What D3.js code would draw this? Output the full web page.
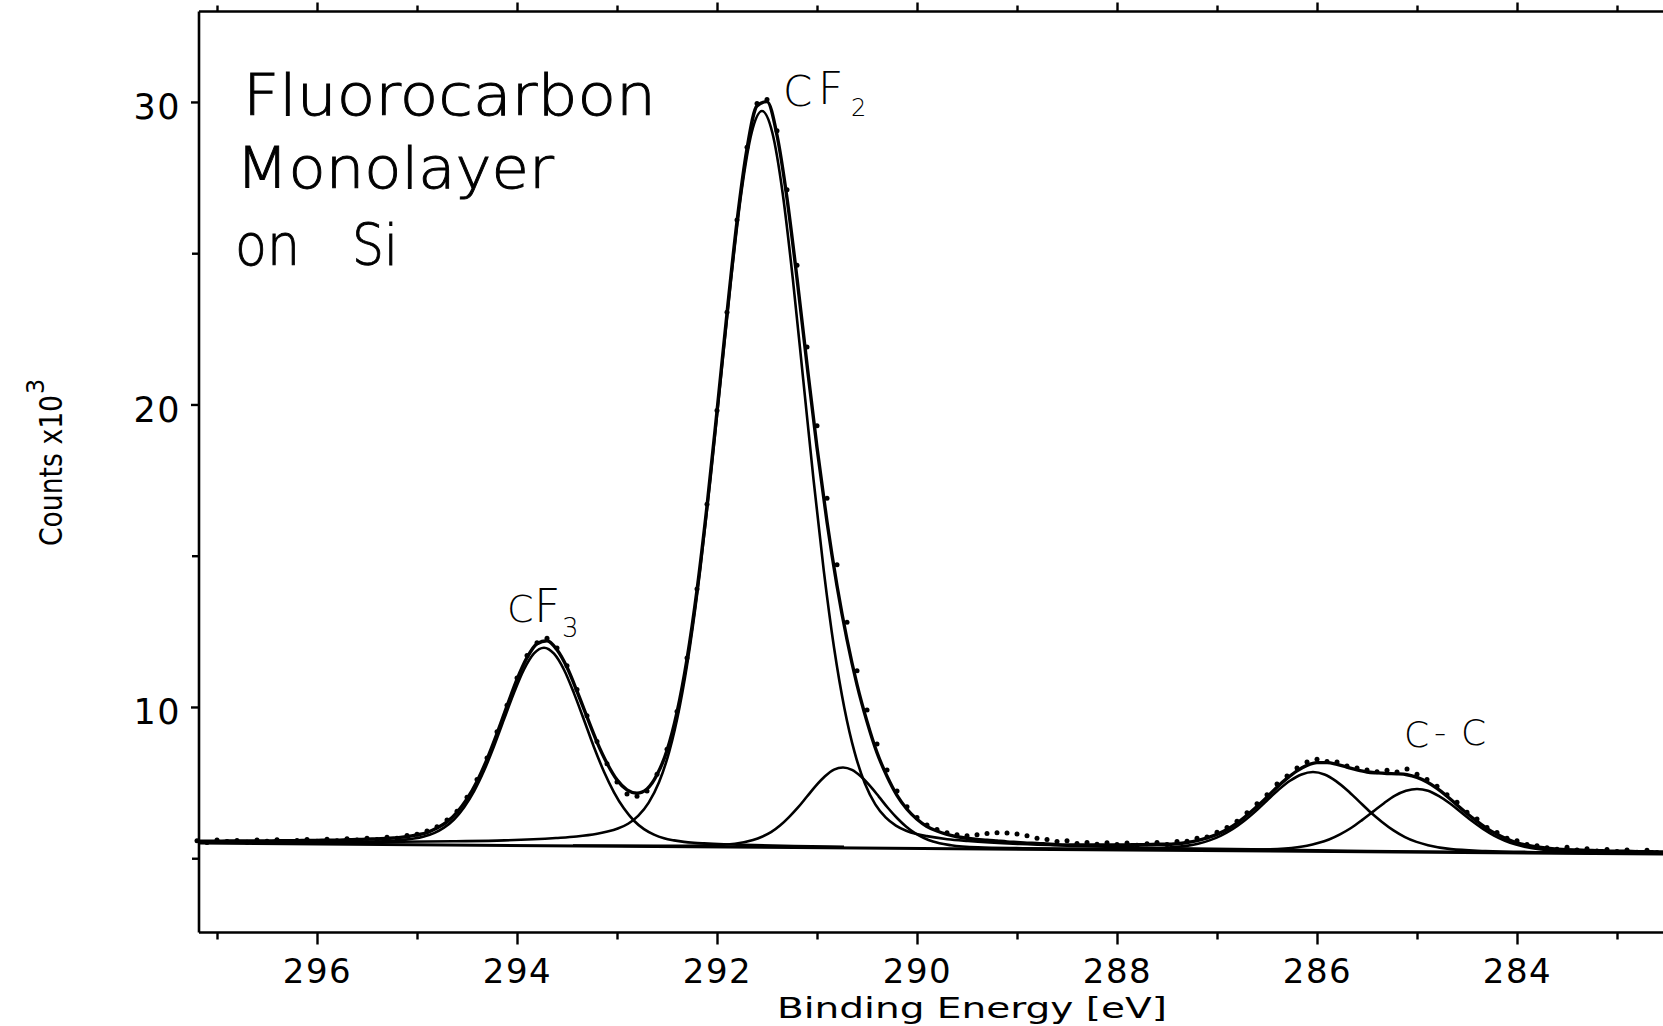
<!DOCTYPE html>
<html><head><meta charset="utf-8">
<script src="https://cdn.jsdelivr.net/npm/d3@7"></script>
<style>html,body{margin:0;padding:0;background:#fff;} svg{display:block;}</style>
</head><body>
<svg id="chart" width="1663" height="1026"></svg>
<script>
// ---------- DATA ----------
const xMajorTicks = [296, 294, 292, 290, 288, 286, 284];
const xMinorTicks = [297, 295, 293, 291, 289, 287, 285, 283];
const yMajorTicks = [10, 20, 30];
const yMinorTicks = [5, 15, 25];

// measured spectrum: first channel energy and channel step (eV), counts x10^3
const dataStartEV = 297.2;
const dataStepEV = 0.1;
const measuredCounts = [
5.58,5.52,5.60,5.55,5.59,5.53,5.60,5.56,5.61,5.55,5.59,5.62,5.56,5.63,5.58,5.64,5.60,5.66,5.62,5.69,
5.66,5.75,5.79,5.90,6.04,6.26,6.55,7.02,7.60,8.31,9.18,10.06,10.96,11.70,12.12,12.27,11.95,11.36,10.58,9.71,
8.86,8.12,7.52,7.12,7.05,7.22,7.78,8.60,9.85,11.62,13.90,16.70,19.80,23.05,26.10,28.50,29.95,30.08,29.05,27.10,
24.60,21.90,19.30,16.90,14.70,12.80,11.20,9.90,8.78,7.92,7.22,6.70,6.35,6.10,5.95,5.84,5.78,5.74,5.78,5.82,
5.84,5.83,5.80,5.74,5.66,5.62,5.55,5.58,5.49,5.52,5.46,5.51,5.45,5.50,5.43,5.48,5.52,5.45,5.55,5.56,
5.66,5.70,5.86,6.02,6.22,6.50,6.80,7.10,7.45,7.72,7.98,8.18,8.27,8.20,8.18,8.05,7.98,7.92,7.86,7.91,
7.85,7.95,7.78,7.60,7.38,7.10,6.85,6.52,6.30,6.02,5.85,5.66,5.58,5.45,5.41,5.35,5.30,5.36,5.27,5.31,
5.24,5.29,5.22,5.27,5.20,5.26,5.19,5.24
];
// fitted envelope on the same channels
const fitCounts = [
5.56,5.56,5.56,5.57,5.57,5.57,5.57,5.57,5.58,5.58,5.58,5.59,5.59,5.60,5.60,5.61,5.62,5.63,5.64,5.65,
5.68,5.71,5.77,5.85,6.00,6.20,6.52,6.96,7.54,8.27,9.12,10.03,10.91,11.63,12.09,12.19,11.89,11.31,10.52,9.67,
8.84,8.14,7.59,7.26,7.15,7.29,7.76,8.56,9.82,11.58,13.86,16.64,19.77,23.01,26.04,28.45,29.87,30.01,28.90,26.82,
24.17,21.32,18.58,16.12,14.01,12.23,10.74,9.52,8.49,7.71,7.08,6.62,6.29,6.05,5.90,5.79,5.71,5.66,5.62,5.60,
5.57,5.54,5.52,5.50,5.49,5.47,5.45,5.44,5.44,5.44,5.44,5.44,5.44,5.44,5.45,5.45,5.46,5.46,5.48,5.52,
5.58,5.67,5.79,5.95,6.16,6.42,6.71,7.02,7.35,7.64,7.89,8.07,8.16,8.16,8.10,8.01,7.92,7.85,7.82,7.80,
7.79,7.76,7.67,7.52,7.31,7.05,6.76,6.48,6.22,5.98,5.79,5.63,5.51,5.43,5.37,5.33,5.30,5.28,5.27,5.26,
5.25,5.24,5.23,5.23,5.22,5.22,5.21,5.21
];
// background line [eV, counts]
const background = [[297.18, 5.50], [282.5, 5.14]];
// fitted components (incl. background) [eV, counts]
const compCF3 = [[297.18,5.52],[296.73,5.52],[296.23,5.52],[295.73,5.53],[295.53,5.55],[295.33,5.56],[295.23,5.58],[295.13,5.61],[295.03,5.65],[294.93,5.72],[294.83,5.83],[294.73,6.01],[294.63,6.28],[294.53,6.68],[294.43,7.21],[294.33,7.89],[294.23,8.70],[294.13,9.59],[294.03,10.47],[293.93,11.24],[293.83,11.77],[293.73,11.96],[293.63,11.76],[293.53,11.23],[293.43,10.45],[293.33,9.57],[293.23,8.67],[293.13,7.86],[293.03,7.18],[292.93,6.64],[292.83,6.24],[292.73,5.96],[292.63,5.78],[292.53,5.66],[292.43,5.59],[292.33,5.54],[292.23,5.51],[292.13,5.49],[291.93,5.46],[291.73,5.44],[291.23,5.40],[290.73,5.38]];
const compCF2 = [[297.18,5.54],[295.67,5.53],[294.64,5.56],[294.125,5.59],[293.61,5.67],[293.404,5.72],[293.198,5.81],[293.095,5.88],[292.992,5.98],[292.889,6.14],[292.786,6.41],[292.683,6.84],[292.58,7.51],[292.477,8.53],[292.374,10.00],[292.271,11.99],[292.168,14.53],[292.065,17.55],[291.962,20.85],[291.859,24.14],[291.756,27.01],[291.653,28.99],[291.55,29.70],[291.447,28.99],[291.344,27.00],[291.241,24.13],[291.138,20.83],[291.035,17.52],[290.932,14.50],[290.829,11.95],[290.726,9.96],[290.623,8.49],[290.52,7.46],[290.417,6.78],[290.314,6.35],[290.211,6.08],[290.108,5.91],[290.005,5.80],[289.902,5.73],[289.696,5.63],[289.49,5.57],[288.975,5.47],[288.46,5.41],[287.43,5.33],[285.5,5.24],[282.55,5.15]];
const comp2907 = [[293.44,5.42],[292.54,5.41],[292.09,5.43],[291.82,5.48],[291.64,5.60],[291.55,5.71],[291.46,5.86],[291.37,6.08],[291.28,6.36],[291.19,6.68],[291.10,7.04],[291.01,7.40],[290.92,7.71],[290.83,7.93],[290.74,8.00],[290.65,7.92],[290.56,7.70],[290.47,7.39],[290.38,7.03],[290.29,6.66],[290.20,6.33],[290.11,6.05],[290.02,5.83],[289.93,5.67],[289.84,5.55],[289.66,5.43],[289.39,5.36],[288.94,5.33],[288.04,5.29]];
const comp2860 = [[289.49,5.33],[288.34,5.31],[287.765,5.32],[287.42,5.37],[287.19,5.48],[287.075,5.59],[286.96,5.75],[286.845,5.96],[286.73,6.23],[286.615,6.55],[286.50,6.91],[286.385,7.26],[286.27,7.56],[286.155,7.77],[286.04,7.85],[285.925,7.77],[285.81,7.55],[285.695,7.24],[285.58,6.88],[285.465,6.52],[285.35,6.20],[285.235,5.92],[285.12,5.70],[285.005,5.54],[284.89,5.43],[284.66,5.30],[284.315,5.24],[283.74,5.20],[282.8,5.16]];
const comp2850 = [[287.2,5.28],[286.65,5.28],[286.32,5.32],[286.10,5.41],[285.99,5.50],[285.88,5.62],[285.77,5.79],[285.66,6.00],[285.55,6.26],[285.44,6.54],[285.33,6.82],[285.22,7.07],[285.11,7.23],[285.00,7.29],[284.89,7.23],[284.78,7.05],[284.67,6.81],[284.56,6.52],[284.45,6.23],[284.34,5.97],[284.23,5.75],[284.12,5.58],[284.01,5.45],[283.90,5.36],[283.68,5.26],[283.35,5.20],[282.80,5.17]];

// ---------- DRAWING ----------
(function () {
const FONT = "'DejaVu Sans', sans-serif";
const svg = d3.select('#chart');
const pL = 199, pR = 1663, pT = 11.5, pB = 932.5;
const x = d3.scaleLinear().domain([297.18, 282.54]).range([pL, pR]);
const y = d3.scaleLinear().domain([2.545, 32.99]).range([pB, pT]);

const toPairs = arr => arr.map((v, i) => [dataStartEV - i * dataStepEV, v]);
const line = d3.line().x(d => x(d[0])).y(d => y(d[1])).curve(d3.curveMonotoneX);

const g = svg.append('g');
g.append('path').datum(background).attr('d', d3.line().x(d => x(d[0])).y(d => y(d[1])))
  .attr('fill', 'none').attr('stroke', '#000').attr('stroke-width', 3);
[compCF3, compCF2, comp2907, comp2860, comp2850].forEach(c => {
  g.append('path').datum(c).attr('d', line).attr('fill', 'none')
    .attr('stroke', '#000').attr('stroke-width', 2.6).attr('stroke-linejoin', 'round');
});
g.append('path').datum(toPairs(fitCounts)).attr('d', line).attr('fill', 'none')
  .attr('stroke', '#000').attr('stroke-width', 3.4);
g.selectAll('circle.pt').data(toPairs(measuredCounts)).enter().append('circle')
  .attr('class', 'pt').attr('cx', d => x(d[0])).attr('cy', d => y(d[1])).attr('r', 2.5).attr('fill', '#000');

svg.append('path').attr('d', `M${pL},${pT}H${pR + 5}M${pL},${pT}V${pB}M${pL},${pB}H${pR + 5}`)
  .attr('fill', 'none').attr('stroke', '#000').attr('stroke-width', 2.6);

function styleAxis(sel, fs) {
  sel.select('.domain').remove();
  sel.selectAll('line').attr('stroke', '#000').attr('stroke-width', 2.4);
  sel.selectAll('text').attr('fill', '#000').attr('font-family', FONT).attr('font-size', fs)
     .attr('letter-spacing', 1.5);
}
const xb = svg.append('g').attr('transform', `translate(0,${pB})`)
  .call(d3.axisBottom(x).tickValues(xMajorTicks).tickSize(12).tickPadding(14).tickFormat(d3.format('d')));
styleAxis(xb, 34);
const xbm = svg.append('g').attr('transform', `translate(0,${pB})`)
  .call(d3.axisBottom(x).tickValues(xMinorTicks).tickSize(7).tickFormat(''));
styleAxis(xbm, 34);
const xt = svg.append('g').attr('transform', `translate(0,${pT})`)
  .call(d3.axisTop(x).tickValues(xMajorTicks).tickSize(9).tickFormat(''));
styleAxis(xt, 34);
const xtm = svg.append('g').attr('transform', `translate(0,${pT})`)
  .call(d3.axisTop(x).tickValues(xMinorTicks).tickSize(6).tickFormat(''));
styleAxis(xtm, 34);
const yl = svg.append('g').attr('transform', `translate(${pL},0)`)
  .call(d3.axisLeft(y).tickValues(yMajorTicks).tickSize(8).tickPadding(10).tickFormat(d3.format('d')));
styleAxis(yl, 35);
yl.selectAll('text').attr('dy', 17);
const ylm = svg.append('g').attr('transform', `translate(${pL},0)`)
  .call(d3.axisLeft(y).tickValues(yMinorTicks).tickSize(7).tickFormat(''));
styleAxis(ylm, 35);

svg.append('text').attr('x', 777).attr('y', 1018).attr('font-family', FONT).attr('font-size', 29)
  .attr('textLength', 390).attr('lengthAdjust', 'spacingAndGlyphs').text('Binding Energy [eV]');
const yt = svg.append('text').attr('transform', 'translate(62,546) rotate(-90)').attr('font-family', FONT);
yt.append('tspan').attr('font-size', 32).attr('textLength', 151).attr('lengthAdjust', 'spacingAndGlyphs').text('Counts x10');
yt.append('tspan').attr('font-size', 24).attr('dy', -18).attr('dx', 1).text('3');

const titleLines = [
  {t: 'Fluorocarbon', x: 243, y: 115, w: 413},
  {t: 'Monolayer', x: 236, y: 188, w: 318},
  {t: 'on', x: 235, y: 265, w: 65},
  {t: 'Si', x: 352, y: 265, w: 46}
];
titleLines.forEach(d => {
  svg.append('text').attr('x', d.x).attr('y', d.y).attr('font-family', FONT).attr('font-size', 57)
    .attr('font-weight', 200).attr('stroke', '#000').attr('stroke-width', 0.9)
    .attr('textLength', d.w).attr('lengthAdjust', 'spacingAndGlyphs').text(d.t);
});

// handwritten peak labels (one text element each)
function hw(parts) {
  const t = svg.append('text').attr('font-family', FONT).attr('font-weight', 200);
  parts.forEach(p => t.append('tspan').attr('x', p[1]).attr('y', p[2]).attr('font-size', p[3]).text(p[0]));
}
hw([['C', 783, 106, 42], ['F', 818, 104, 44], ['2', 851, 116, 24]]);
hw([['C', 507, 622, 38], ['F', 534, 622, 46], ['3', 562, 637, 26]]);
hw([['C', 1404, 747, 36], ['-', 1434, 744, 34], ['C', 1461, 745, 36]]);
})();
</script>
</body></html>
